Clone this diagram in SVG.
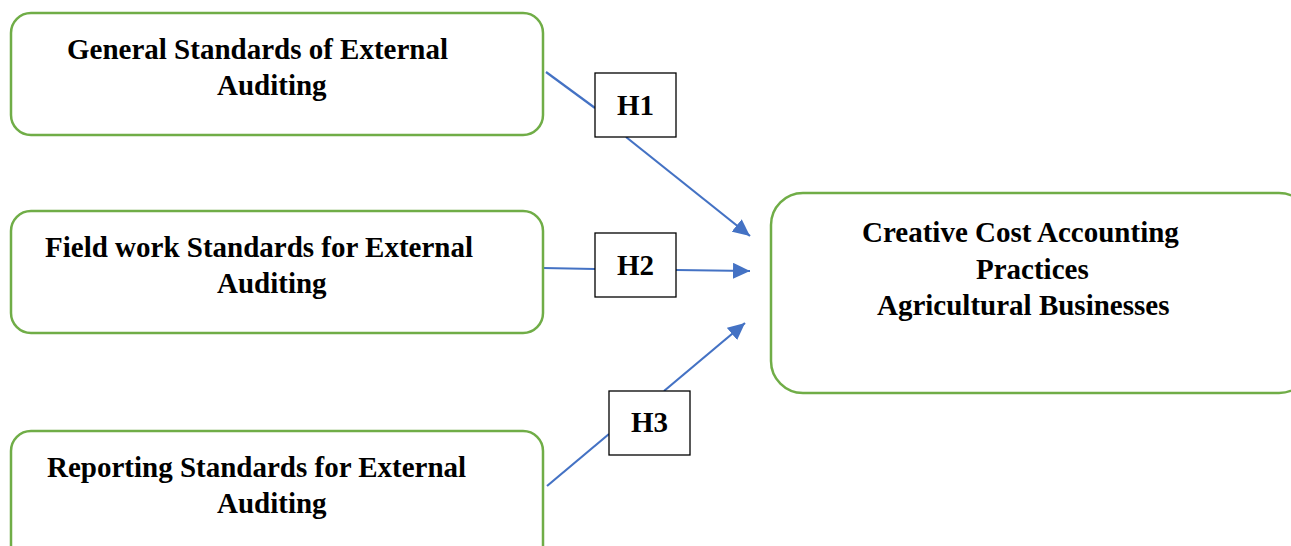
<svg xmlns="http://www.w3.org/2000/svg" width="1291" height="546" viewBox="0 0 1291 546">
<defs>
<style>
.node{fill:#fff;stroke:#70AD47;stroke-width:2.5}
.hbox{fill:#fff;stroke:#000;stroke-width:1.3}
.t{font-family:"Liberation Serif","Times New Roman",serif;font-weight:bold;font-size:29px;fill:#000}
.c{stroke:#4472C4;stroke-width:2.2;fill:none}
</style>
<marker id="arr" markerUnits="userSpaceOnUse" markerWidth="20" markerHeight="16" refX="17" refY="8" orient="auto">
<path d="M0,0 L17,8 L0,16 z" fill="#4472C4"/>
</marker>
</defs>
<rect width="1291" height="546" fill="#fff"/>
<g id="connectors">
<line class="c" x1="546" y1="72" x2="595" y2="108"/>
<line class="c" x1="626" y1="137" x2="750" y2="236" marker-end="url(#arr)"/>
<line class="c" x1="543" y1="268" x2="595" y2="269"/>
<line class="c" x1="676" y1="270" x2="750" y2="271" marker-end="url(#arr)"/>
<line class="c" x1="547" y1="486" x2="609" y2="434"/>
<line class="c" x1="664" y1="391" x2="745" y2="323" marker-end="url(#arr)"/>
</g>
<g id="node-general">
<rect class="node" x="11" y="13" width="532" height="122" rx="20"/>
<text class="t" x="67" y="59">General Standards of External</text>
<text class="t" x="217" y="95">Auditing</text>
</g>
<g id="node-fieldwork">
<rect class="node" x="11" y="211" width="532" height="122" rx="20"/>
<text class="t" x="45" y="257">Field work Standards for External</text>
<text class="t" x="217" y="293">Auditing</text>
</g>
<g id="node-reporting">
<rect class="node" x="11" y="431" width="532" height="140" rx="20"/>
<text class="t" x="47" y="477">Reporting Standards for External</text>
<text class="t" x="217" y="513">Auditing</text>
</g>
<g id="node-creative">
<rect class="node" x="771" y="193" width="540" height="200" rx="32"/>
<text class="t" x="862" y="242">Creative Cost Accounting</text>
<text class="t" x="976" y="279">Practices</text>
<text class="t" x="877" y="315">Agricultural Businesses</text>
</g>
<g id="h1">
<rect class="hbox" x="595" y="73" width="81" height="64"/>
<text class="t" x="635.5" y="115" text-anchor="middle">H1</text>
</g>
<g id="h2">
<rect class="hbox" x="595" y="233" width="81" height="64"/>
<text class="t" x="635.5" y="275" text-anchor="middle">H2</text>
</g>
<g id="h3">
<rect class="hbox" x="609" y="391" width="81" height="64"/>
<text class="t" x="649.5" y="432" text-anchor="middle">H3</text>
</g>
</svg>
